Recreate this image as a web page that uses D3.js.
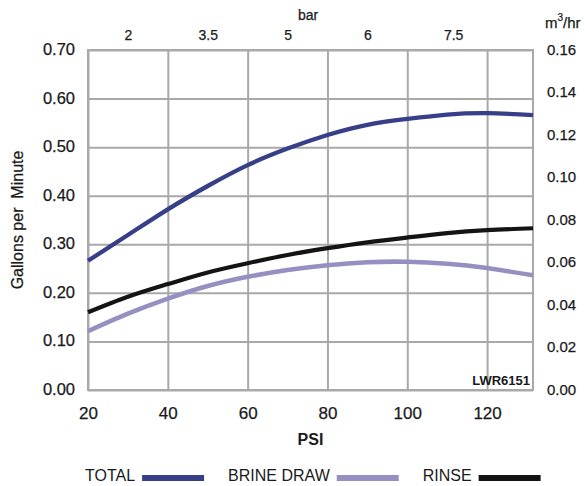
<!DOCTYPE html>
<html>
<head>
<meta charset="utf-8">
<script src="https://cdn.jsdelivr.net/npm/d3@7"></script>
<style>
  html, body { margin: 0; padding: 0; background: #fff; }
  svg { display: block; font-family: "Liberation Sans", Arial, Helvetica, sans-serif; }
</style>
</head>
<body>
<svg id="chart" width="585" height="486"></svg>
<script>
// ---- data ----
const psi   = [20, 30, 40, 50, 60, 70, 80, 90, 100, 110, 120, 131.5];
const total = [0.266, 0.319, 0.372, 0.420, 0.463, 0.497, 0.525, 0.546, 0.558, 0.567, 0.570, 0.566];
const brine = [0.121, 0.157, 0.188, 0.214, 0.233, 0.247, 0.257, 0.263, 0.264, 0.260, 0.251, 0.236];
const rinse = [0.160, 0.192, 0.218, 0.242, 0.261, 0.278, 0.292, 0.304, 0.314, 0.323, 0.329, 0.333];

const psiTicks   = [20, 40, 60, 80, 100, 120];
const gpmTicks   = [0, 0.1, 0.2, 0.3, 0.4, 0.5, 0.6, 0.7];
const m3Ticks    = [0, 0.02, 0.04, 0.06, 0.08, 0.10, 0.12, 0.14, 0.16];
const barLabels  = ["2", "3.5", "5", "6", "7.5"];
const barAtPsi   = [30, 50, 70, 90, 111.5];

const seriesNames = ["TOTAL", "BRINE DRAW", "RINSE"];
const seriesData  = [total, brine, rinse];
const seriesColor = ["#363f87", "#9590c1", "#141414"];

// ---- layout ----
const svg = d3.select("#chart");
const L = 88, R = 533, T = 50, B = 390;
const x  = d3.scaleLinear().domain([20, 131.5]).range([L, R]);
const y  = d3.scaleLinear().domain([0, 0.7]).range([B, T]);
const y2 = d3.scaleLinear().domain([0, 0.16]).range([B, T]);
const gridColor = "#a9a9a9";
const textColor = "#1a1a1a";

function styleText(sel, size) {
  sel.attr("font-size", size).attr("fill", textColor)
    .attr("stroke", textColor).attr("stroke-width", 0.25)
    .attr("font-family", "Liberation Sans, Arial, sans-serif");
}

// grid
const gy = svg.append("g").attr("transform", `translate(${L},0)`)
  .call(d3.axisLeft(y).tickValues(gpmTicks).tickSize(-(R - L)).tickFormat(""));
gy.select(".domain").remove();
gy.selectAll("line").attr("stroke", gridColor).attr("stroke-width", 2);

const gx = svg.append("g").attr("transform", `translate(0,${B})`)
  .call(d3.axisBottom(x).tickValues(psiTicks).tickSize(-(B - T)).tickFormat(""));
gx.select(".domain").remove();
gx.selectAll("line").attr("stroke", gridColor).attr("stroke-width", 2);

svg.append("rect").attr("x", L).attr("y", T).attr("width", R - L).attr("height", B - T)
  .attr("fill", "none").attr("stroke", gridColor).attr("stroke-width", 2);

// curves
const line = d3.line().curve(d3.curveNatural)
  .x((d, i) => x(psi[i])).y(d => y(d));
const widths = [4.3, 4.6, 4.2];
[1, 2, 0].forEach(k => {
  svg.append("path").datum(seriesData[k])
    .attr("d", line).attr("fill", "none")
    .attr("stroke", seriesColor[k]).attr("stroke-width", widths[k])
    .attr("stroke-linecap", "butt");
});

// left axis labels
const al = svg.append("g").attr("transform", `translate(${L},0)`)
  .call(d3.axisLeft(y).tickValues(gpmTicks).tickSize(0).tickPadding(13).tickFormat(d3.format(".2f")));
al.select(".domain").remove();
styleText(al.selectAll("text").attr("dy", "0.27em"), 16.5);

// right axis labels
const ar = svg.append("g").attr("transform", `translate(${R},0)`)
  .call(d3.axisRight(y2).tickValues(m3Ticks).tickSize(0).tickPadding(14).tickFormat(d3.format(".2f")));
ar.select(".domain").remove();
styleText(ar.selectAll("text").attr("dy", "0.27em"), 15);

// bottom axis labels
const ab = svg.append("g").attr("transform", `translate(0,${B})`)
  .call(d3.axisBottom(x).tickValues(psiTicks).tickSize(0).tickPadding(17));
ab.select(".domain").remove();
styleText(ab.selectAll("text"), 17);

// top (bar) axis labels
const at = svg.append("g").attr("transform", `translate(0,${T})`)
  .call(d3.axisTop(x).tickValues(barAtPsi).tickSize(0).tickPadding(10)
    .tickFormat((d, i) => barLabels[i]));
at.select(".domain").remove();
styleText(at.selectAll("text"), 14);

// titles
styleText(svg.append("text").attr("x", 308).attr("y", 20).attr("text-anchor", "middle").text("bar"), 14);

const m3 = svg.append("text").attr("x", 545).attr("y", 28);
styleText(m3, 15);
m3.append("tspan").text("m");
m3.append("tspan").attr("font-size", 10).attr("dy", -7).text("3");
m3.append("tspan").attr("dy", 7).text("/hr");

svg.append("text").attr("x", (L + R) / 2).attr("y", 445).attr("text-anchor", "middle")
  .attr("font-size", 16).attr("font-weight", "bold").attr("fill", textColor).text("PSI");

styleText(svg.append("text").attr("transform", `translate(23,${(T + B) / 2}) rotate(-90)`)
  .attr("text-anchor", "middle").style("white-space", "pre")
  .text("Gallons per  Minute"), 16);

svg.append("text").attr("x", R - 3).attr("y", 385).attr("text-anchor", "end")
  .attr("font-size", 13).attr("font-weight", "bold").attr("fill", textColor).text("LWR6151");

// legend
const leg = svg.append("g");
let lx = 85;
seriesNames.forEach((name, k) => {
  const t = leg.append("text").attr("x", lx).attr("y", 481).text(name);
  styleText(t, 16);
  t.attr("stroke-width", 0);
  const w = t.node().getComputedTextLength();
  leg.append("rect").attr("x", lx + w + 7).attr("y", 475).attr("width", 62).attr("height", 6)
    .attr("fill", seriesColor[k]);
  lx = lx + w + 7 + 62 + 24;
});
</script>
</body>
</html>
